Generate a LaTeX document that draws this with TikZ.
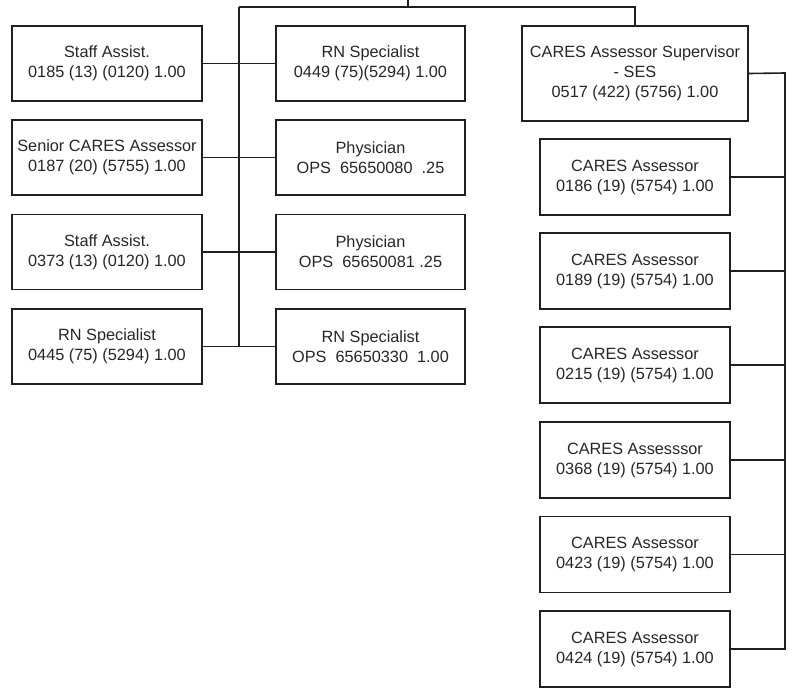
\documentclass[tikz,border=0pt]{standalone}
\usepackage{fontspec}
\setmainfont{Liberation Sans}
\begin{document}
\begin{tikzpicture}[x=1pt,y=-1pt,
  box/.style={draw=black!88,line width=1.6pt,rectangle,inner sep=0pt,align=center,
    text=black!85,font=\fontsize{16.3}{20}\selectfont},
  lbox/.style={box,minimum width=190pt,minimum height=75pt},
  rbox/.style={box,minimum width=190pt,minimum height=76pt},
  link/.style={draw=black!88,line width=1.6pt}]
\useasboundingbox (0,0) rectangle (794,694);
% left column
\node[lbox] (l1) at (107,63.5) {Staff Assist.\\0185 (13) (0120) 1.00};
\node[lbox] (l2) at (107,157.5) {Senior CARES Assessor\\0187 (20) (5755) 1.00};
\node[lbox] (l3) at (107,252) {Staff Assist.\\0373 (13) (0120) 1.00};
\node[lbox] (l4) at (107,346.5) {RN Specialist\\0445 (75) (5294) 1.00};
% middle column
\node[lbox,minimum width=189pt] (m1) at (370.5,63.5) {RN Specialist\\0449 (75)(5294) 1.00};
\node[lbox,minimum width=189pt] (m2) at (370.5,157.5) {Physician\\OPS\ \ 65650080\ \ .25};
\node[lbox,minimum width=189pt] (m3) at (370.5,252) {Physician\\OPS\ \ 65650081\ .25};
\node[lbox,minimum width=189pt] (m4) at (370.5,346.5) {RN Specialist\\OPS\ \ 65650330\ \ 1.00};
% supervisor
\node[box,minimum width=226pt,minimum height=95pt] (sup) at (635,73.5) {CARES Assessor Supervisor\\- SES\\0517 (422) (5756) 1.00};
% right column
\node[rbox] (r1) at (635,177) {CARES Assessor\\0186 (19) (5754) 1.00};
\node[rbox] (r2) at (635,271) {CARES Assessor\\0189 (19) (5754) 1.00};
\node[rbox] (r3) at (635,365) {CARES Assessor\\0215 (19) (5754) 1.00};
\node[rbox] (r4) at (635,460) {CARES Assesssor\\0368 (19) (5754) 1.00};
\node[rbox] (r5) at (635,554.5) {CARES Assessor\\0423 (19) (5754) 1.00};
\node[rbox] (r6) at (635,649) {CARES Assessor\\0424 (19) (5754) 1.00};
% connectors
\coordinate (p) at (408,0);
\coordinate (top) at (239,7);
\draw[link] (p) -- (p |- top);
\draw[link] (top) -| (sup.north);
\draw[link] (top) -- (top |- l4.east);
\draw[link] (l1.east) -- (m1.west);
\draw[link] (l2.east) -- (m2.west);
\draw[link] (l3.east) -- (m3.west);
\draw[link] (l4.east) -- (m4.west);
\coordinate (rb) at (785,73);
\draw[link] (sup.east) -- (rb) |- (r6.east);
\foreach \n in {r1,r2,r3,r4,r5}{\draw[link] (\n.east) -- (\n.east -| rb);}
\end{tikzpicture}
\end{document}
